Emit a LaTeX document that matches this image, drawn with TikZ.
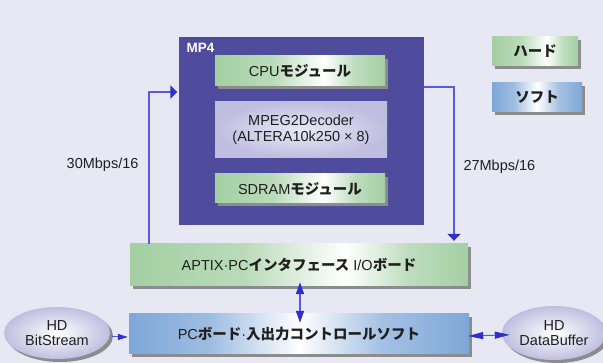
\documentclass[tikz,border=0pt]{standalone}
\usepackage{fontspec}
\setmainfont{Liberation Sans}
\newfontfamily\jpfont{Noto Sans CJK JP}
\usetikzlibrary{arrows.meta,shadows,calc,shapes.geometric}

\definecolor{bg}{HTML}{E7E8F4}
\definecolor{mpblue}{HTML}{4F4C9D}
\definecolor{hwgreen}{HTML}{A3CFA3}
\definecolor{swblue}{HTML}{7EA7D8}
\definecolor{lav}{HTML}{C0BEE0}
\definecolor{lavlight}{HTML}{E9E8F6}
\definecolor{flowline}{HTML}{5A5ADE}
\definecolor{flowtip}{HTML}{2E2ED2}
\definecolor{ink}{HTML}{1F1F1F}
\definecolor{shadowgray}{HTML}{8C8C8C}

% glossy fills: the box spans 25bp..75bp of the shading
\pgfdeclarehorizontalshading{hwshade}{100bp}{color(0bp)=(hwgreen); color(25bp)=(hwgreen); color(42bp)=(hwgreen!75!white); color(57bp)=(white); color(66bp)=(hwgreen!70!white); color(75bp)=(hwgreen); color(100bp)=(hwgreen)}
\pgfdeclarehorizontalshading{swshade}{100bp}{color(0bp)=(swblue); color(25bp)=(swblue); color(37bp)=(swblue!75!white); color(50bp)=(white); color(62bp)=(swblue!70!white); color(75bp)=(swblue); color(100bp)=(swblue)}

\newcommand\jtxt[1]{{\jpfont\bfseries #1}}

\begin{document}
\begin{tikzpicture}[x=1pt,y=-1pt,
  every node/.style={font=\fontsize{14.5}{16}\selectfont, text=ink},
  boxshadow/.style={drop shadow={shadow xshift=3pt, shadow yshift=-3pt, fill=shadowgray, opacity=1}},
  hwbox/.style={rectangle, inner sep=0pt, shading=hwshade, boxshadow},
  swbox/.style={rectangle, inner sep=0pt, shading=swshade, boxshadow},
  mp4box/.style={rectangle, inner sep=0pt, fill=mpblue, minimum width=245, minimum height=188},
  mpegbox/.style={rectangle, inner sep=0pt, inner color=lavlight, outer color=lav, align=center, minimum width=172, minimum height=56},
  datablob/.style={ellipse, inner sep=0pt, inner color=white, outer color=lav, align=center, boxshadow, font=\fontsize{14.5}{15.5}\selectfont},
  flow/.style={draw=flowline, line width=1.6pt, -{Triangle[length=7pt,width=13pt,color=flowtip]}},
  dbl/.style={draw=flowline, line width=1.6pt, {Triangle[length=12pt,width=8pt,color=flowtip]}-{Triangle[length=12pt,width=8pt,color=flowtip]}},
  thinflow/.style={draw=flowline, line width=1pt},
]
\useasboundingbox (0,0) rectangle (603,363);
\fill[bg] (0,0) rectangle (603,363);

% MP4 board and its modules
\node[mp4box] (mp4) at (301.5,131) {};
\node[anchor=base west, text=white, font=\bfseries\fontsize{13.5}{14}\selectfont] (mp4lbl) at (183,53) {MP4};
\node[hwbox, minimum width=170, minimum height=30] (cpu) at (300,71) {CPU\jtxt{モジュール}};
\node[mpegbox] (mpeg) at (301,130) {MPEG2Decoder\\(ALTERA10k250 × 8)};
\node[hwbox, minimum width=170, minimum height=29] (sdram) at (300,188.5) {SDRAM\jtxt{モジュール}};

% legend
\node[hwbox, minimum width=86, minimum height=29] (hard) at (535,51.5) {\jtxt{ハード}};
\node[swbox, minimum width=90, minimum height=29] (soft) at (537,97.5) {\jtxt{ソフト}};

% interface board and PC side
\node[hwbox, minimum width=338, minimum height=42] (aptix) at (299,265) {APTIX·PC\jtxt{インタフェース} I/O\jtxt{ボード}};
\node[swbox, minimum width=340, minimum height=40] (pcsoft) at (299,334) {PC\jtxt{ボード}·\jtxt{入出力コントロールソフト}};

\node[datablob, minimum width=106, minimum height=52] (bits) at (57,333) {HD\\BitStream};
\node[datablob, minimum width=104, minimum height=54] (dbuf) at (554,333) {HD\\DataBuffer};

% rate labels
\node[anchor=base east] (r30) at (142,169) {30Mbps/16};
\node[anchor=base west] (r27) at (460,171) {27Mbps/16};

% data paths
\coordinate (k1) at (149,92);
\draw[flow, shorten >=1.5pt] (k1 |- aptix.north) -- (k1) -- (k1 -| mp4.west);
\coordinate (k2) at (454,87);
\draw[flow, shorten >=3pt] (k2 -| mp4.east) -- (k2) -- (k2 |- aptix.north);
\draw[dbl, shorten <=-4pt, shorten >=-9pt] ([xshift=1pt]aptix.south) -- ([xshift=1pt]pcsoft.north);
\draw[thinflow, -{Triangle[length=10pt,width=6pt,color=flowtip]}, shorten <=2pt, shorten >=1pt]
  ([yshift=-4pt]bits.east) -- ([yshift=-3pt]pcsoft.west);
\draw[thinflow, {Triangle[length=15pt,width=7pt,color=flowtip]}-{Triangle[length=15pt,width=7pt,color=flowtip]}, shorten <=-1pt, shorten >=-8pt]
  ([yshift=-2pt]pcsoft.east) -- ([yshift=-2pt]dbuf.west);
\end{tikzpicture}
\end{document}
